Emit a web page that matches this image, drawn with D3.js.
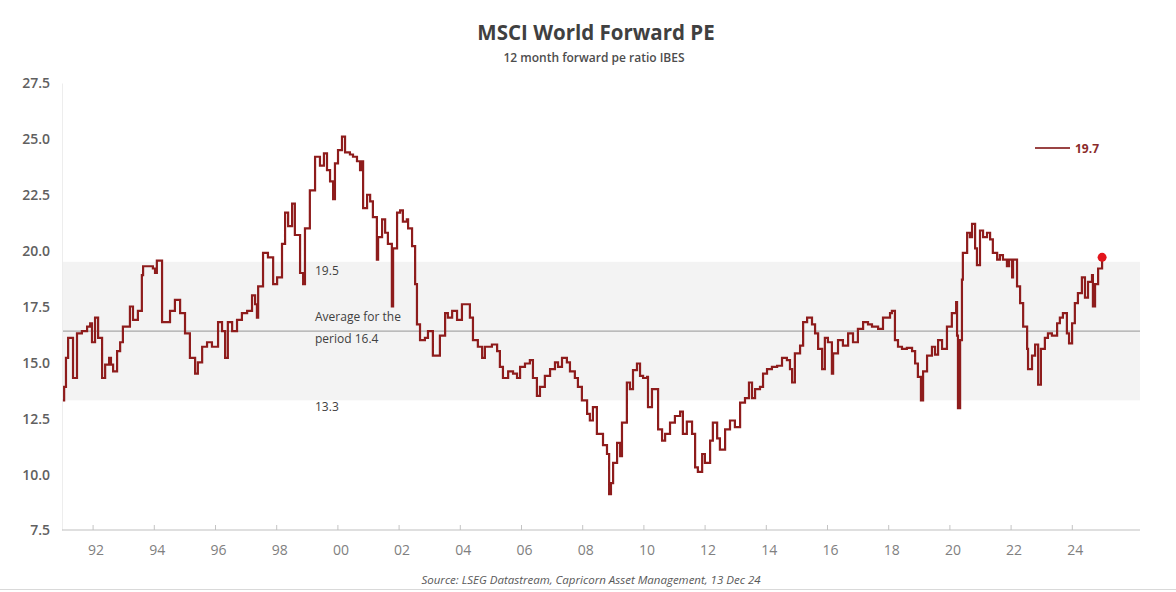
<!DOCTYPE html>
<html>
<head>
<meta charset="utf-8">
<script src="https://cdn.jsdelivr.net/npm/d3@7"></script>
<style>
  body { margin: 0; background: white; }
  #chart { width: 1176px; height: 592px; }
</style>
</head>
<body>
<div id="chart"></div>
<script>
// Data (decimal years, 12m forward PE)
const dates = [
  1991.03,1991.07,1991.13,1991.20,1991.36,1991.49,1991.65,1991.82,1991.92,1991.98,
  1992.08,1992.18,1992.31,1992.41,1992.54,1992.60,1992.67,1992.80,1992.90,1992.99,
  1993.22,1993.32,1993.48,1993.61,1993.65,1993.81,1993.97,1994.04,1994.10,1994.27,
  1994.53,1994.69,1994.86,1995.02,1995.18,1995.35,1995.44,1995.58,1995.74,1995.90,
  1996.10,1996.23,1996.33,1996.42,1996.56,1996.72,1996.88,1997.05,1997.21,1997.31,
  1997.37,1997.41,1997.57,1997.73,1997.90,1998.03,1998.19,1998.29,1998.39,1998.52,
  1998.61,1998.78,1998.88,1998.94,1999.10,1999.27,1999.43,1999.56,1999.66,1999.76,
  1999.86,1999.92,2000.02,2000.15,2000.25,2000.41,2000.51,2000.64,2000.74,2000.80,
  2000.84,2000.97,2001.07,2001.16,2001.29,2001.33,2001.46,2001.56,2001.65,2001.78,
  2001.82,2001.95,2002.05,2002.14,2002.27,2002.31,2002.44,2002.54,2002.60,2002.70,
  2002.86,2002.96,2003.12,2003.35,2003.52,2003.61,2003.75,2003.91,2004.07,2004.33,
  2004.43,2004.59,2004.73,2004.82,2005.05,2005.22,2005.31,2005.41,2005.58,2005.74,
  2005.87,2005.97,2006.13,2006.29,2006.39,2006.52,2006.62,2006.78,2006.95,2007.11,
  2007.21,2007.34,2007.50,2007.60,2007.76,2007.86,2007.99,2008.16,2008.25,2008.35,
  2008.48,2008.68,2008.81,2008.88,2008.94,2009.01,2009.14,2009.24,2009.30,2009.46,
  2009.56,2009.66,2009.79,2009.89,2009.99,2010.12,2010.15,2010.28,2010.48,2010.61,
  2010.71,2010.87,2011.03,2011.20,2011.29,2011.42,2011.59,2011.69,2011.78,2011.92,
  2012.01,2012.18,2012.27,2012.41,2012.50,2012.67,2012.83,2012.99,2013.16,2013.32,
  2013.45,2013.55,2013.65,2013.81,2013.91,2014.04,2014.20,2014.37,2014.53,2014.69,
  2014.79,2014.86,2014.95,2015.12,2015.22,2015.35,2015.51,2015.61,2015.71,2015.84,
  2015.93,2016.03,2016.16,2016.20,2016.36,2016.52,2016.69,2016.85,2017.01,2017.18,
  2017.34,2017.47,2017.67,2017.83,2018.06,2018.12,2018.22,2018.32,2018.45,2018.61,
  2018.78,2018.88,2018.97,2019.07,2019.14,2019.27,2019.43,2019.53,2019.63,2019.76,
  2019.92,2020.08,2020.22,2020.25,2020.28,2020.35,2020.41,2020.44,2020.58,2020.67,
  2020.74,2020.84,2020.90,2021.00,2021.10,2021.23,2021.33,2021.42,2021.56,2021.65,
  2021.75,2021.88,2021.95,2022.05,2022.08,2022.21,2022.31,2022.41,2022.54,2022.57,
  2022.70,2022.80,2022.90,2022.99,2023.12,2023.22,2023.35,2023.52,2023.61,2023.71,
  2023.84,2023.91,2024.01,2024.10,2024.20,2024.33,2024.43,2024.53,2024.66,2024.69,
  2024.76,2024.86,2024.99
];
const pe = [
  13.3,13.9,15.2,16.1,14.3,16.3,16.4,16.6,16.75,15.9,
  17.0,16.1,14.3,14.9,15.2,14.9,14.6,15.5,15.9,16.6,
  17.5,16.9,17.3,18.9,19.3,19.3,19.2,19.0,19.55,16.8,
  17.3,17.8,17.2,16.3,15.2,14.5,15.0,15.7,15.9,15.7,
  16.8,16.4,15.2,16.8,16.4,16.9,17.2,17.3,18.0,17.6,
  17.0,18.4,19.9,19.7,18.5,18.8,20.3,21.7,21.1,22.1,
  20.7,19.0,18.5,21.0,22.7,24.2,23.8,24.35,23.6,23.1,
  22.3,23.9,24.5,25.1,24.4,24.3,24.2,24.0,23.6,24.0,
  21.9,22.5,22.2,21.5,19.6,20.6,21.4,20.8,20.3,17.5,
  20.1,21.7,21.8,21.3,21.4,21.0,20.2,18.5,16.7,16.0,
  16.1,16.4,15.3,16.2,17.2,17.0,17.3,16.9,17.6,17.0,
  16.0,15.7,15.2,15.7,15.8,15.5,14.8,14.3,14.6,14.5,
  14.3,14.8,14.95,15.1,14.3,13.5,13.9,14.4,14.7,15.0,
  14.8,15.2,15.0,14.6,14.3,13.9,13.3,12.7,12.4,13.0,
  11.8,11.3,10.9,9.1,9.6,10.5,11.4,10.8,12.3,14.1,
  13.8,14.65,14.95,14.4,14.3,14.35,13.0,13.8,12.0,11.5,
  11.8,12.3,12.6,12.8,11.8,12.35,11.8,10.3,10.1,10.9,
  10.5,11.5,12.3,11.6,11.1,12.0,12.4,12.1,13.2,13.4,
  14.1,13.4,13.8,13.9,14.5,14.7,14.8,14.85,15.2,15.1,
  14.7,14.1,15.4,15.75,16.8,17.0,16.7,16.3,15.6,14.7,
  16.1,15.9,14.5,15.4,16.0,15.75,16.3,15.9,16.5,16.8,
  16.7,16.6,16.5,17.0,17.2,17.3,16.0,15.7,15.6,15.65,
  15.5,14.95,14.35,13.3,14.6,15.3,15.7,15.35,16.0,15.6,
  16.6,17.2,17.7,16.2,12.95,16.0,18.7,19.9,20.8,20.6,
  21.2,20.1,19.35,20.9,20.6,20.8,20.5,19.9,19.6,19.8,
  19.6,19.3,19.6,18.8,19.6,18.4,17.65,16.6,15.6,14.7,
  15.3,15.8,14.0,15.6,16.1,16.3,16.2,16.75,17.0,17.2,
  16.3,15.85,16.75,17.65,18.1,18.8,17.9,18.6,18.9,17.5,
  18.5,19.2,19.7
];
const yTicks = [7.5, 10.0, 12.5, 15.0, 17.5, 20.0, 22.5, 25.0, 27.5];
const xTickYears = [1992,1994,1996,1998,2000,2002,2004,2006,2008,2010,2012,2014,2016,2018,2020,2022,2024];
const bandHigh = 19.5;
const bandLow = 13.3;
const average = 16.4;
const lastValue = 19.7;

const dataset = dates.map((d, i) => ({ date: d, value: pe[i] }));
const xAccessor = (d) => d.date;
const yAccessor = (d) => d.value;

const dimensions = {
  width: 1176,
  height: 592,
  plotLeft: 62,
  plotRight: 1140,
  plotTop: 83,
  plotBottom: 530
};

const wrapper = d3.select("#chart")
  .append("svg")
  .attr("width", dimensions.width)
  .attr("height", dimensions.height)
  .style("font-family", "'Open Sans', sans-serif");

wrapper.append("rect")
  .attr("width", dimensions.width)
  .attr("height", dimensions.height)
  .attr("fill", "white");

//Scales
const xScale = d3.scaleLinear()
  .domain([1991, 2025])
  .range([dimensions.plotLeft, 1102.4]);

const yScale = d3.scaleLinear()
  .domain([7.5, 27.5])
  .range([dimensions.plotBottom, dimensions.plotTop]);

//Title
wrapper.append("text")
  .attr("x", 596).attr("y", 40)
  .attr("text-anchor", "middle")
  .attr("font-size", 20.5).attr("font-weight", 700)
  .attr("fill", "#404040")
  .text("MSCI World Forward PE");

wrapper.append("text")
  .attr("x", 594).attr("y", 62)
  .attr("text-anchor", "middle")
  .attr("font-size", 12).attr("font-weight", 600)
  .attr("fill", "#4d4d4d")
  .text("12 month forward pe ratio IBES");

//Range band and average
wrapper.append("rect")
  .attr("x", dimensions.plotLeft)
  .attr("y", yScale(bandHigh))
  .attr("width", dimensions.plotRight - dimensions.plotLeft)
  .attr("height", yScale(bandLow) - yScale(bandHigh))
  .attr("fill", "#f3f3f3");

wrapper.append("line")
  .attr("x1", dimensions.plotLeft).attr("x2", dimensions.plotRight)
  .attr("y1", yScale(average)).attr("y2", yScale(average))
  .attr("stroke", "#a8a8a8").attr("stroke-width", 1.2);

//Axes
const yAxis = d3.axisLeft(yScale)
  .tickValues(yTicks)
  .tickSize(0)
  .tickPadding(12)
  .tickFormat(d3.format(".1f"));

wrapper.append("g")
  .attr("transform", `translate(${dimensions.plotLeft},0)`)
  .call(yAxis)
  .call((g) => g.select(".domain").attr("stroke", "#ededed"))
  .call((g) => g.selectAll(".tick text").attr("dy", "0.35em"))
  .attr("font-size", 14)
  .attr("font-family", "'Open Sans', sans-serif")
  .attr("font-weight", 600)
  .attr("color", "#606060");

const xAxis = d3.axisBottom(xScale)
  .tickValues(xTickYears)
  .tickSize(-5)
  .tickPadding(15)
  .tickFormat((d) => String(d % 100).padStart(2, "0"));

wrapper.append("g")
  .attr("transform", `translate(0,${dimensions.plotBottom})`)
  .call(xAxis)
  .call((g) => g.select(".domain").remove())
  .call((g) => g.append("line")
    .attr("x1", dimensions.plotLeft).attr("x2", dimensions.plotRight)
    .attr("stroke", "#bfbfbf"))
  .call((g) => g.selectAll(".tick line").attr("stroke", "#c4c4c4"))
  .call((g) => g.selectAll(".tick text").attr("dx", 3))
  .attr("font-size", 14)
  .attr("font-family", "'Open Sans', sans-serif")
  .attr("color", "#808080");

//Annotations
const note = wrapper.append("g")
  .attr("font-size", 12)
  .attr("fill", "#404040");

note.append("text").attr("x", 315).attr("y", yScale(bandHigh) + 13).text("19.5");
note.append("text").attr("x", 315).attr("y", yScale(average) - 10).text("Average for the");
note.append("text").attr("x", 315).attr("y", yScale(average) + 12).text("period 16.4");
note.append("text").attr("x", 315).attr("y", yScale(bandLow) + 11).text("13.3");

//Line
const lineGenerator = d3.line()
  .curve(d3.curveStepAfter)
  .x((d) => xScale(xAccessor(d)))
  .y((d) => yScale(yAccessor(d)));

wrapper.append("path")
  .attr("d", lineGenerator(dataset))
  .attr("fill", "none")
  .attr("stroke", "#8e1c1c")
  .attr("stroke-width", 2.2)
  .attr("stroke-linejoin", "miter");

const last = dataset[dataset.length - 1];
wrapper.append("circle")
  .attr("cx", xScale(last.date))
  .attr("cy", yScale(last.value))
  .attr("r", 4.5)
  .attr("fill", "#e3151c");

//Legend
wrapper.append("line")
  .attr("x1", 1035).attr("x2", 1070)
  .attr("y1", 148).attr("y2", 148)
  .attr("stroke", "#9a4444").attr("stroke-width", 2);

wrapper.append("text")
  .attr("x", 1075).attr("y", 152.5)
  .attr("font-size", 12).attr("font-weight", 700)
  .attr("fill", "#8a2a2a")
  .text(d3.format(".1f")(lastValue));

//Source
wrapper.append("text")
  .attr("x", 591).attr("y", 584)
  .attr("text-anchor", "middle")
  .attr("font-size", 11.5).attr("font-style", "italic")
  .attr("fill", "#595959")
  .text("Source: LSEG Datastream, Capricorn Asset Management, 13 Dec 24");

wrapper.append("line")
  .attr("x1", 0).attr("x2", dimensions.width)
  .attr("y1", 589.5).attr("y2", 589.5)
  .attr("stroke", "#d9d9d9");
</script>
</body>
</html>
